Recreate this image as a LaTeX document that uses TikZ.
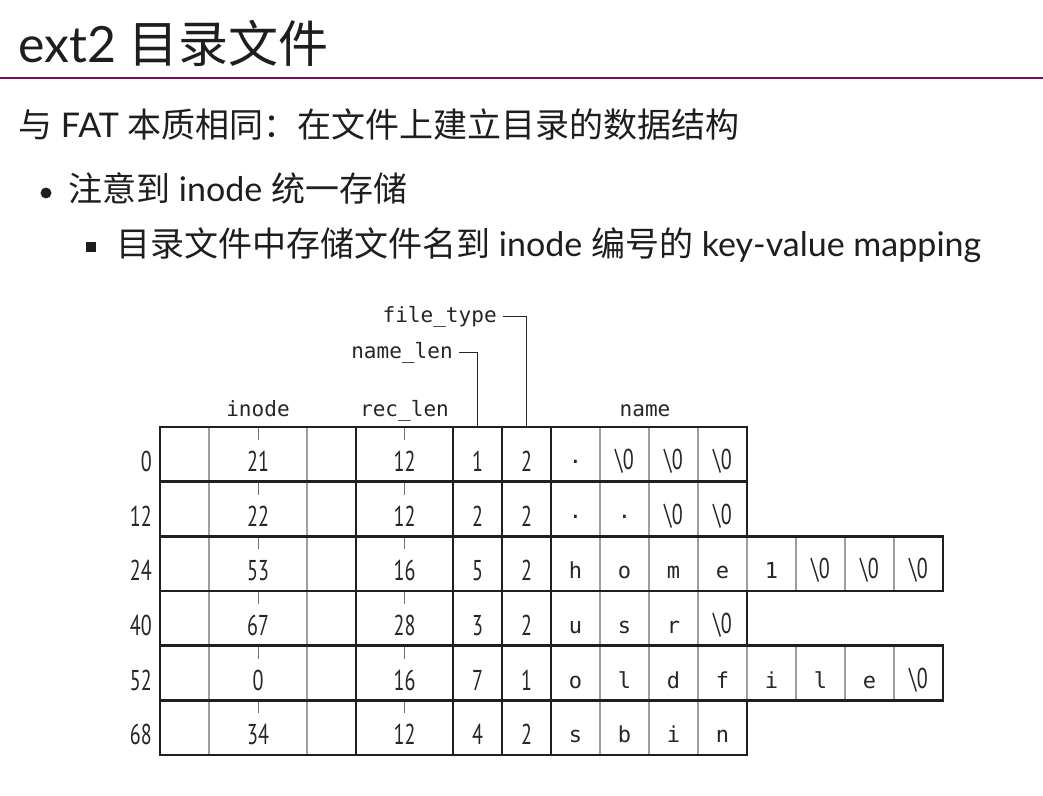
\documentclass[tikz,border=0pt]{standalone}
\usepackage{fontspec}
\setmainfont{Lato}
\newfontfamily\cjk{Noto Sans CJK SC}
\newfontfamily\numf{PT Sans}[FakeStretch=0.7]
\newfontfamily\monof{DejaVu Sans Mono}
\definecolor{rulepurple}{RGB}{112,18,98}
\definecolor{txt}{RGB}{30,30,30}
\newcommand\zr{{\numf\fontsize{21.5}{24}\selectfont\textbackslash 0}}
\newcommand\dt{\raisebox{4.5pt}{.}}
\begin{document}
\begin{tikzpicture}[x=0.75pt,y=-0.75pt,
  thickline/.style={line width=2.1pt,black!88},
  thinline/.style={line width=1.1pt,black!38},
  tickline/.style={line width=0.7pt,black!55},
  lead/.style={line width=1.1pt,black!85},
  lab/.style={font=\monof\fontsize{15.8}{18}\selectfont,inner sep=0pt,text=black!85},
  ch/.style={font=\monof\fontsize{16.5}{18}\selectfont,inner sep=0pt,anchor=base,text=black!85},
  num/.style={font=\numf\fontsize{21.5}{24}\selectfont,inner sep=0pt,text=black!85},
  body/.style={font=\fontsize{25.5}{30}\selectfont,inner sep=0pt,anchor=base west,text=txt},
]
\useasboundingbox[fill=white] (0,0) rectangle (1043,796);

% header
\node[anchor=base west,inner sep=0pt,text=txt,font=\fontsize{37.5}{42}\selectfont] (title) at (18,62) {ext2 {\cjk 目录文件}};
\draw[line width=1.3pt,rulepurple] (0,78) -- (1043,78);
\node[body] (l1) at (18,137) {{\cjk 与} FAT {\cjk 本质相同：在文件上建立目录的数据结构}};
\fill[txt] (46,193) circle[radius=4.1pt];
\node[body] (l2) at (68,201) {{\cjk 注意到} inode {\cjk 统一存储}};
\fill[txt] (86,242) rectangle (96,252);
\node[body] (l3) at (116,256) {{\cjk 目录文件中存储文件名到} inode {\cjk 编号的} key-value mapping};

% column labels
\node[lab,anchor=base] (linode) at (258,416) {inode};
\node[lab,anchor=base] (lrec) at (404.5,416) {rec\_len};
\node[lab,anchor=base] (lname) at (645,416) {name};
\node[lab,anchor=base east] (ftl) at (497,322) {file\_type};
\node[lab,anchor=base east] (nll) at (453,358) {name\_len};
\coordinate (ftc) at (526.5,427);
\coordinate (nlc) at (477.5,427);
\draw[lead] ([xshift=4.5pt]ftl.east) -| (ftc);
\draw[lead] ([xshift=4.5pt]nll.east) -| (nlc);

% rows
\foreach \i/\off/\ino/\rec/\nl/\ft/\nn in {0/0/21/12/1/2/4,1/12/22/12/2/2/4,2/24/53/16/5/2/8,3/40/67/28/3/2/4,4/52/0/16/7/1/8,5/68/34/12/4/2/4}{
  \pgfmathsetmacro\rt{427+54.67*\i}
  \pgfmathsetmacro\rb{\rt+54.67}
  \pgfmathsetmacro\rx{551+49*\nn}
  \pgfmathtruncatemacro\nnm{\nn-1}
  \draw[thinline] (209,\rt) -- (209,\rb) (307,\rt) -- (307,\rb);
  \foreach \k in {1,...,\nnm}{\draw[thinline] (551+49*\k,\rt) -- (551+49*\k,\rb);}
  \draw[tickline] (258,\rt) -- (258,\rt+13) (404.5,\rt) -- (404.5,\rt+13);
  \draw[thickline] (160,\rt) rectangle (\rx,\rb);
  \draw[thickline] (356,\rt) -- (356,\rb) (453,\rt) -- (453,\rb) (502,\rt) -- (502,\rb) (551,\rt) -- (551,\rb);
  \node[num,anchor=base east] (off\i) at (152,\rt+44.5) {\off};
  \node[num,anchor=base] (ino\i) at (258,\rt+44.5) {\ino};
  \node[num,anchor=base] (rec\i) at (404.5,\rt+44.5) {\rec};
  \node[num,anchor=base] (nl\i) at (477.5,\rt+44.5) {\nl};
  \node[num,anchor=base] (ft\i) at (526.5,\rt+44.5) {\ft};
}
% name characters
\foreach \c [count=\k from 0] in {\dt,\zr,\zr,\zr}{\node[ch] (a0-\k) at (575.5+49*\k,469.5) {\c};}
\foreach \c [count=\k from 0] in {\dt,\dt,\zr,\zr}{\node[ch] (a1-\k) at (575.5+49*\k,524.2) {\c};}
\foreach \c [count=\k from 0] in {h,o,m,e,1,\zr,\zr,\zr}{\node[ch] (a2-\k) at (575.5+49*\k,578.8) {\c};}
\foreach \c [count=\k from 0] in {u,s,r,\zr}{\node[ch] (a3-\k) at (575.5+49*\k,633.5) {\c};}
\foreach \c [count=\k from 0] in {o,l,d,f,i,l,e,\zr}{\node[ch] (a4-\k) at (575.5+49*\k,688.2) {\c};}
\foreach \c [count=\k from 0] in {s,b,i,n}{\node[ch] (a5-\k) at (575.5+49*\k,742.9) {\c};}
\end{tikzpicture}
\end{document}
